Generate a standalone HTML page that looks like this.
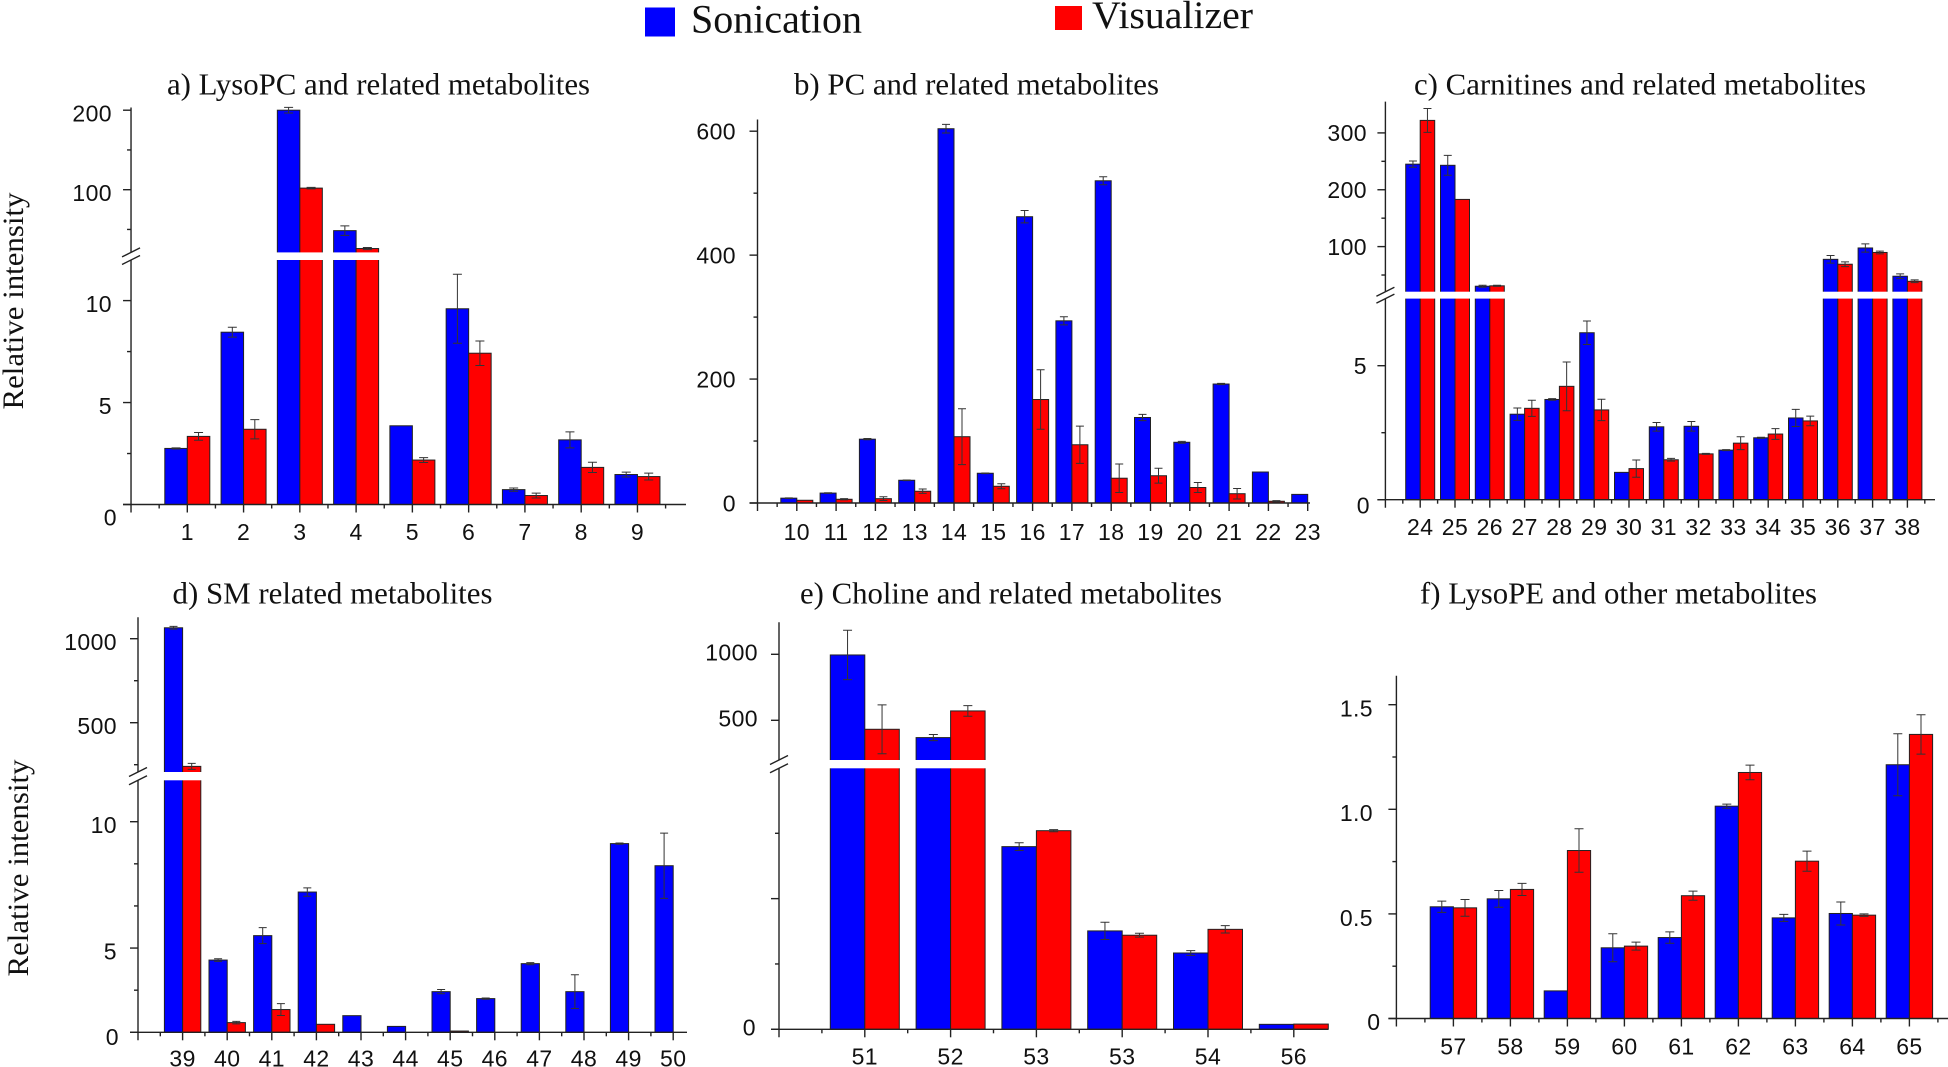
<!DOCTYPE html>
<html lang="en">
<head>
<meta charset="utf-8">
<title>Relative intensity of metabolites: Sonication vs Visualizer</title>
<style>
html,body{margin:0;padding:0;background:#fff;}
svg{display:block;}
.serif{font-family:"Liberation Serif",serif;fill:#111;}
.tick{font-family:"Liberation Sans",sans-serif;font-size:23px;fill:#111;letter-spacing:.4px;}
</style>
</head>
<body>
<svg id="figure" xmlns="http://www.w3.org/2000/svg" width="1948" height="1067" viewBox="0 0 1948 1067">
  <rect x="0" y="0" width="1948" height="1067" fill="#fff"/>
  <g>
    <rect x="645" y="7.5" width="30" height="29" fill="#0000ff"/>
    <text class="serif" x="691" y="32.5" font-size="40" textLength="171" lengthAdjust="spacingAndGlyphs">Sonication</text>
    <rect x="1055" y="6" width="27" height="24" fill="#ff0000"/>
    <text class="serif" x="1092" y="28" font-size="39" textLength="161" lengthAdjust="spacingAndGlyphs">Visualizer</text>
  </g>
  <text class="serif" font-size="30" text-anchor="middle" textLength="217" lengthAdjust="spacingAndGlyphs" transform="translate(23,301) rotate(-90)">Relative intensity</text>
  <text class="serif" font-size="30" text-anchor="middle" textLength="217" lengthAdjust="spacingAndGlyphs" transform="translate(28,868) rotate(-90)">Relative intensity</text>
  <text class="serif" x="167" y="94.5" font-size="31" textLength="423" lengthAdjust="spacingAndGlyphs">a) LysoPC and related metabolites</text>
  <text class="serif" x="794" y="94.5" font-size="31" textLength="365" lengthAdjust="spacingAndGlyphs">b) PC and related metabolites</text>
  <text class="serif" x="1414" y="94.5" font-size="31" textLength="452" lengthAdjust="spacingAndGlyphs">c) Carnitines and related metabolites</text>
  <text class="serif" x="172.5" y="603.5" font-size="31" textLength="320" lengthAdjust="spacingAndGlyphs">d) SM related metabolites</text>
  <text class="serif" x="800" y="603.5" font-size="31" textLength="422" lengthAdjust="spacingAndGlyphs">e) Choline and related metabolites</text>
  <text class="serif" x="1420" y="603.5" font-size="31" textLength="397" lengthAdjust="spacingAndGlyphs">f) LysoPE and other metabolites</text>
  <g id="panel-a"></g>
  <g id="panel-b"></g>
  <g id="panel-c"></g>
  <g id="panel-d"></g>
  <g id="panel-e"></g>
  <g id="panel-f"></g>
</svg>
<script>
// Panel a
const catsA = ['1','2','3','4','5','6','7','8','9'];
const sonA = [2.75,8.45,200,48.5,3.86,9.6,0.73,3.17,1.47];
const visA = [3.34,3.69,102,26,2.18,7.42,0.44,1.82,1.37];
const sonErrA = [0.03,0.24,3.5,6,0,1.69,0.08,0.39,0.12];
const visErrA = [0.19,0.47,1,1.3,0.12,0.6,0.12,0.25,0.17];
const lowTicksA = [0,2.5,5,7.5,10];
const lowLabelsA = ['0','','5','','10'];
const highTicksA = [50,100,150,200];
const highLabelsA = ['','100','','200'];

// Panel b
const catsB = ['10','11','12','13','14','15','16','17','18','19','20','21','22','23'];
const sonB = [7.8,16,103,36.7,604,48,462,294,520,138,98,192,50,13.9];
const visB = [4.4,6,7,19,107,27,167,94,40,44,25,15,2.8,0];
const sonErrB = [0.5,0.5,1,0.5,7,0.5,10,6.5,6.5,5,1.5,1,0,0];
const visErrB = [0,1,3,3.5,45,4,48,30,23,12,8,8.5,1,0];
const lowTicksB = [0,100,200,300,400,500,600];
const lowLabelsB = ['0','','200','','400','','600'];

// Panel c
const catsC = ['24','25','26','27','28','29','30','31','32','33','34','35','36','37','38'];
const sonC = [245,243,30.3,3.19,3.74,6.23,1.02,2.72,2.74,1.85,2.31,3.05,77.6,97.6,47.9];
const visC = [322,183,31,3.41,4.23,3.35,1.16,1.49,1.71,2.11,2.45,2.94,69,89.7,39];
const sonErrC = [5.5,17.5,1.8,0.23,0.03,0.44,0,0.16,0.18,0.02,0.02,0.32,6.7,7.3,4.2];
const visErrC = [21,0,1,0.3,0.91,0.4,0.32,0.05,0.02,0.24,0.2,0.18,4.2,2.4,2.4];
const lowTicksC = [0,2.5,5];
const lowLabelsC = ['0','','5'];
const highTicksC = [50,100,150,200,250,300];
const highLabelsC = ['','100','','200','','300'];

// Panel d
const catsD = ['39','40','41','42','43','44','45','46','47','48','49','50'];
const sonD = [1065,3.43,4.59,6.66,0.79,0.28,1.93,1.6,3.26,1.93,8.96,7.91];
const visD = [240,0.46,1.08,0.38,0,0,0.06,0,0,0,0,0];
const sonErrD = [8,0.06,0.38,0.2,0,0,0.1,0.03,0.05,0.8,0.03,1.55];
const visErrD = [18,0.06,0.28,0,0,0,0,0,0,0,0,0];
const lowTicksD = [0,2,4,6,8,10];
const lowLabelsD = ['0','','5','','','10'];
const highTicksD = [250,500,750,1000];
const highLabelsD = ['','500','','1000'];

// Panel e
const catsE = ['51','52','53','53','54','56'];
const sonE = [995,369,139.8,75.3,58.4,3.8];
const visE = [432,571,152,72,76.5,4];
const sonErrE = [187,23,3,6.6,1.8,0];
const visErrE = [185,40,0.8,1.5,2.8,0];
const lowTicksE = [0,50,100,150];
const lowLabelsE = ['0','',' ',''];
const highTicksE = [500,1000];
const highLabelsE = ['500','1000'];

// Panel f
const catsF = ['57','58','59','60','61','62','63','64','65'];
const sonF = [0.534,0.572,0.132,0.338,0.387,1.015,0.481,0.502,1.213];
const visF = [0.529,0.617,0.803,0.346,0.587,1.176,0.752,0.494,1.358];
const sonErrF = [0.027,0.04,0,0.067,0.027,0.01,0.017,0.055,0.148];
const visErrF = [0.04,0.029,0.104,0.019,0.022,0.035,0.048,0.006,0.094];
const lowTicksF = [0,0.25,0.5,0.75,1,1.25,1.5];
const lowLabelsF = ['0','','0.5','','1.0','','1.5'];

const NS = 'http://www.w3.org/2000/svg';
const AXIS = '#222';

function mk(tag, attrs, parent) {
  const el = document.createElementNS(NS, tag);
  for (const k in attrs) el.setAttribute(k, attrs[k]);
  parent.appendChild(el);
  return el;
}
function linear(d, r) {
  const f = v => r[0] + (v - d[0]) * (r[1] - r[0]) / (d[1] - d[0]);
  f.invert = p => d[0] + (p - r[0]) * (d[1] - d[0]) / (r[1] - r[0]);
  return f;
}
function axisLine(parent, x1, y1, x2, y2, w) {
  return mk('line', {x1: x1, y1: y1, x2: x2, y2: y2, stroke: AXIS, 'stroke-width': w || 1.4}, parent);
}

function drawPanel(p) {
  const g = document.getElementById(p.id);
  const lowY = linear(p.low.d, p.low.r);
  const highY = p.high ? linear(p.high.d, p.high.r) : null;
  const lowMax = p.brk ? lowY.invert(p.brk[1]) : Infinity;
  const y = v => (v > lowMax && highY) ? highY(v) : lowY(v);
  const base = lowY(0);
  const x = i => p.first + i * p.step;
  const x0 = x(-1);

  // bars and error bars
  p.cats.forEach((c, i) => {
    [[p.son, p.sonErr, -1, '#0000ff', 'sonication'], [p.vis, p.visErr, 0, '#ff0000', 'visualizer']].forEach(s => {
      const v = s[0][i], e = s[1][i];
      if (v <= 0) return;
      const bx = x(i) + s[2] * p.barW;
      const top = y(v);
      const bar = mk('rect', {x: bx, y: top, width: p.barW, height: base - top, fill: s[3], stroke: '#222', 'stroke-width': 1}, g);
      
      
      if (e > 0) {
        const cx = bx + p.barW / 2, yt = y(v + e), yb = y(Math.max(v - e, 0));
        const err = mk('path', {
          d: 'M' + (cx - p.cap) + ' ' + yt + 'H' + (cx + p.cap) + 'M' + cx + ' ' + yt + 'V' + yb + 'M' + (cx - p.cap) + ' ' + yb + 'H' + (cx + p.cap),
          fill: 'none', stroke: '#333', 'stroke-width': 1
        }, g);
        
        
      }
    });
  });

  // white break strip over tall bars
  if (p.brk) {
    p.cats.forEach((c, i) => {
      const tall = Math.max(p.son[i], p.vis[i]) > lowMax;
      if (!tall) return;
      const strip = mk('rect', {x: x(i) - p.barW - 1.5, y: p.brk[0], width: p.barW * 2 + 3, height: p.brk[1] - p.brk[0], fill: '#fff'}, g);
      
      
    });
  }

  // y axis
  const axisBottom = base + 8;
  if (p.brk) {
    const a1 = axisLine(g, x0, axisBottom, x0, p.brk[1]);
    
    
    const a2 = axisLine(g, x0, p.brk[0], x0, p.top);
    
    
    p.brk.forEach(py => {
      const sl = axisLine(g, x0 - 9, py + 4.5, x0 + 9, py - 4.5);
      
      
    });
  } else {
    const a = axisLine(g, x0, axisBottom, x0, p.top);
    
    
  }

  // y ticks and labels
  const yTicks = (vals, labels, scale) => {
    vals.forEach((v, i) => {
      const label = labels[i], py = scale(v);
      const t = axisLine(g, x0 - (label !== '' ? 8 : 4), py, x0, py);
      
      
      if (label.trim() !== '') {
        const dy = v === 0 ? p.zeroDy : p.labelDy;
        const right = v === 0 ? p.zeroRight : p.labelRight;
        const tx = mk('text', {x: right, y: py + dy + 8.3, 'text-anchor': 'end', class: 'tick'}, g);
        tx.textContent = label;
        
        
      }
    });
  };
  yTicks(p.lowTicks, p.lowLabels, lowY);
  if (p.high) yTicks(p.highTicks, p.highLabels, highY);

  // x axis
  const xa = axisLine(g, x0 - 8, base, p.end, base);
  
  
  p.cats.forEach((c, i) => {
    const t = axisLine(g, x(i), base, x(i), base + 8);
    
    
    const tx = mk('text', {x: x(i), y: p.catLabelY + 8.3, 'text-anchor': 'middle', class: 'tick'}, g);
    tx.textContent = c;
    
    
  });
  for (let i = -1; i < p.cats.length; i++) {
    const mx = x(i) + p.step / 2;
    if (mx > p.end) continue;
    const t = axisLine(g, mx, base, mx, base + 4);
    
    
  }
}

drawPanel({id: 'panel-a', cats: catsA, son: sonA, vis: visA, sonErr: sonErrA, visErr: visErrA,
  lowTicks: lowTicksA, lowLabels: lowLabelsA, highTicks: highTicksA, highLabels: highLabelsA,
  first: 187.3, step: 56.27, barW: 22.5, cap: 4.5, end: 686, top: 107.5,
  low: {d: [0, 10], r: [504.5, 300.6]}, high: {d: [100, 200], r: [189.7, 110.2]}, brk: [252.4, 260],
  labelRight: 112, zeroRight: 117, labelDy: 3, zeroDy: 12.8, catLabelY: 531.7});

drawPanel({id: 'panel-b', cats: catsB, son: sonB, vis: visB, sonErr: sonErrB, visErr: visErrB,
  lowTicks: lowTicksB, lowLabels: lowLabelsB,
  first: 796.8, step: 39.3, barW: 16, cap: 4, end: 1310, top: 119.5,
  low: {d: [0, 600], r: [503, 131.2]},
  labelRight: 736, zeroRight: 736, labelDy: 0, zeroDy: 0, catLabelY: 531.7});

drawPanel({id: 'panel-c', cats: catsC, son: sonC, vis: visC, sonErr: sonErrC, visErr: visErrC,
  lowTicks: lowTicksC, lowLabels: lowLabelsC, highTicks: highTicksC, highLabels: highLabelsC,
  first: 1420.2, step: 34.8, barW: 14.5, cap: 4, end: 1935, top: 101.6,
  low: {d: [0, 5], r: [499.7, 365.7]}, high: {d: [100, 300], r: [246.6, 132.9]}, brk: [291.7, 298.6],
  labelRight: 1367, zeroRight: 1370, labelDy: 0, zeroDy: 5.3, catLabelY: 526.7});

drawPanel({id: 'panel-d', cats: catsD, son: sonD, vis: visD, sonErr: sonErrD, visErr: visErrD,
  lowTicks: lowTicksD, lowLabels: lowLabelsD, highTicks: highTicksD, highLabels: highLabelsD,
  first: 182.6, step: 44.6, barW: 18.2, cap: 4, end: 687, top: 617.3,
  low: {d: [0, 10], r: [1032.3, 821.7]}, high: {d: [500, 1000], r: [722.7, 638.7]}, brk: [772, 780.3],
  labelRight: 117, zeroRight: 119, labelDy: 3, zeroDy: 4.4, catLabelY: 1058});

drawPanel({id: 'panel-e', cats: catsE, son: sonE, vis: visE, sonErr: sonErrE, visErr: visErrE,
  lowTicks: lowTicksE, lowLabels: lowLabelsE, highTicks: highTicksE, highLabels: highLabelsE,
  first: 864.8, step: 85.8, barW: 34.5, cap: 4.5, end: 1328, top: 622.3,
  low: {d: [0, 150], r: [1029.3, 833.3]}, high: {d: [500, 1000], r: [720.3, 654.3]}, brk: [760, 768.3],
  labelRight: 758, zeroRight: 756, labelDy: -2, zeroDy: -2.3, catLabelY: 1056});

drawPanel({id: 'panel-f', cats: catsF, son: sonF, vis: visF, sonErr: sonErrF, visErr: visErrF,
  lowTicks: lowTicksF, lowLabels: lowLabelsF,
  first: 1453.4, step: 57, barW: 23.2, cap: 4.5, end: 1948, top: 675.7,
  low: {d: [0, 1.5], r: [1018.5, 704.7]},
  labelRight: 1373, zeroRight: 1380.5, labelDy: 3.6, zeroDy: 3.2, catLabelY: 1046});
</script>
</body>
</html>
